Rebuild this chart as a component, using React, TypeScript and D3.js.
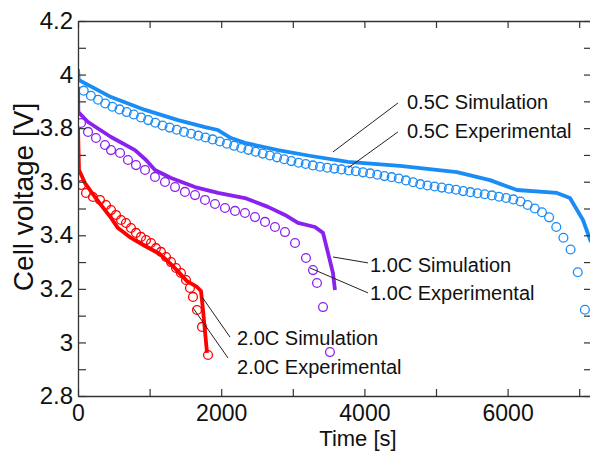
// Discharge curves: simulation (lines) vs experiment (open circles) at three C-rates
import { useEffect, useRef } from 'react';
import * as d3 from 'd3';

const W = 590, H = 451;
const font = "'Liberation Sans', Arial, Helvetica, sans-serif";

const COL = {
  c05: '#1a8cf5',
  c10: '#8a22ee',
  c20: '#ff0000',
  axis: '#333',
  text: '#111',
};

// ── ticks ──
const xTicks = [0, 1000, 2000, 3000, 4000, 5000, 6000, 7000];
const xTickLabels = ['0', '', '2000', '', '4000', '', '6000', ''];
const yTicks = [2.8, 2.9, 3.0, 3.1, 3.2, 3.3, 3.4, 3.5, 3.6, 3.7, 3.8, 3.9, 4.0, 4.1, 4.2];
const yTickLabels = ['2.8', '', '3', '', '3.2', '', '3.4', '', '3.6', '', '3.8', '', '4', '', '4.2'];

// ── 0.5C ──
const sim05T = [0, 10, 461, 936, 1397, 1774, 1955, 2137, 2332, 2793, 3254, 3771, 4497, 5293, 5754, 6131, 6690, 6871, 7053, 7165];
const sim05V = [4.02, 3.98, 3.916, 3.868, 3.83, 3.804, 3.793, 3.763, 3.745, 3.718, 3.696, 3.674, 3.659, 3.636, 3.606, 3.569, 3.558, 3.539, 3.457, 3.375];
const exp05T = [
  80, 180, 280, 380, 480, 580, 680, 780, 880, 980, 1080, 1180, 1280, 1380, 1480, 1580, 1680, 1780,
  1880, 1980, 2080, 2180, 2280, 2380, 2480, 2580, 2680, 2780, 2880, 2980, 3080, 3180, 3280, 3380,
  3480, 3580, 3680, 3780, 3880, 3980, 4080, 4180, 4280, 4380, 4480, 4580, 4680, 4780, 4880, 4980,
  5080, 5180, 5280, 5380, 5480, 5580, 5680, 5780, 5880, 5980, 6080, 6180, 6280, 6380, 6480, 6580,
  6680, 6780, 6880, 6980, 7080,
];
const exp05V = [
  3.94, 3.921, 3.906, 3.892, 3.88, 3.87, 3.86, 3.851, 3.84, 3.83, 3.82, 3.81, 3.802, 3.794, 3.786, 3.779, 3.772, 3.765,
  3.758, 3.75, 3.742, 3.734, 3.726, 3.719, 3.712, 3.705, 3.698, 3.691, 3.684, 3.677, 3.671, 3.666, 3.661, 3.656,
  3.652, 3.649, 3.646, 3.642, 3.639, 3.635, 3.631, 3.626, 3.621, 3.617, 3.612, 3.605, 3.598, 3.591, 3.586, 3.582,
  3.578, 3.574, 3.57, 3.565, 3.561, 3.557, 3.553, 3.549, 3.544, 3.539, 3.534, 3.526, 3.513, 3.5, 3.486, 3.467,
  3.431, 3.391, 3.347, 3.262, 3.122,
];

// ── 1.0C ──
const sim10T = [0, 5, 140, 461, 796, 950, 1075, 1299, 1634, 1955, 2332, 2653, 2891, 3073, 3310, 3422, 3492, 3561, 3589];
const sim10V = [3.954, 3.86, 3.823, 3.767, 3.718, 3.681, 3.644, 3.614, 3.58, 3.558, 3.539, 3.506, 3.476, 3.446, 3.431, 3.409, 3.334, 3.259, 3.196];
const exp10T = [42, 140, 251, 377, 461, 587, 698, 810, 936, 1075, 1215, 1355, 1494, 1634, 1774, 1913, 2053, 2193, 2332, 2472, 2612, 2751, 2891, 3031, 3184, 3282, 3338, 3422, 3519];
const exp10V = [3.819, 3.786, 3.763, 3.737, 3.718, 3.707, 3.681, 3.662, 3.644, 3.618, 3.599, 3.58, 3.562, 3.55, 3.532, 3.517, 3.502, 3.491, 3.483, 3.468, 3.45, 3.431, 3.412, 3.371, 3.315, 3.27, 3.222, 3.132, 2.964];

// ── 2.0C ──
const sim20T = [0, 14, 98, 237, 377, 461, 559, 740, 936, 1145, 1327, 1522, 1662, 1718, 1746, 1802];
const sim20V = [3.8, 3.644, 3.595, 3.543, 3.494, 3.465, 3.427, 3.39, 3.36, 3.33, 3.285, 3.229, 3.207, 3.192, 3.121, 2.961];
const exp20T = [42, 112, 209, 307, 391, 461, 531, 601, 670, 740, 810, 880, 950, 1020, 1089, 1159, 1229, 1299, 1369, 1438, 1508, 1564, 1606, 1662, 1732, 1816];
const exp20V = [3.588, 3.558, 3.543, 3.532, 3.513, 3.494, 3.476, 3.457, 3.446, 3.427, 3.409, 3.394, 3.382, 3.371, 3.352, 3.338, 3.319, 3.3, 3.278, 3.259, 3.233, 3.203, 3.17, 3.121, 3.058, 2.953];

// annotation labels: text, leader start (t,V), leader end (t,V), text anchor (t,V)
const notes = [
  { text: '0.5C Simulation',   from: [3561, 3.711], to: [4469, 3.894], at: [4595, 3.898] },
  { text: '0.5C Experimental', from: [3771, 3.651], to: [4469, 3.786], at: [4595, 3.789] },
  { text: '1.0C Simulation',   from: [3561, 3.319], to: [4050, 3.297], at: [4078, 3.291] },
  { text: '1.0C Experimental', from: [3240, 3.278], to: [4050, 3.185], at: [4078, 3.187] },
  { text: '2.0C Simulation',   from: [1732, 3.170], to: [2123, 3.020], at: [2221, 3.016] },
  { text: '2.0C Experimental', from: [1606, 3.129], to: [2095, 2.942], at: [2221, 2.910] },
];

const zip = (t: number[], v: number[]) => t.map((d, i) => [d, v[i]] as [number, number]);

export default function App() {
  const ref = useRef<SVGSVGElement>(null);

  useEffect(() => {
    const svg = d3.select(ref.current);
    svg.selectAll('*').remove();

    const x = d3.scaleLinear().domain([0, 7165]).range([78, 591]);
    const y = d3.scaleLinear().domain([2.8, 4.2]).range([396, 21]);

    svg.append('rect').attr('width', W).attr('height', H).attr('fill', '#fff');

    svg.append('defs').append('clipPath').attr('id', 'plot')
      .append('rect').attr('x', 78).attr('y', 21).attr('width', 513).attr('height', 375);

    const g = svg.append('g').attr('clip-path', 'url(#plot)');

    const series = [
      { c: COL.c05, sim: zip(sim05T, sim05V), exp: zip(exp05T, exp05V) },
      { c: COL.c10, sim: zip(sim10T, sim10V), exp: zip(exp10T, exp10V) },
      { c: COL.c20, sim: zip(sim20T, sim20V), exp: zip(exp20T, exp20V) },
    ];
    const line = d3.line<[number, number]>().x(d => x(d[0])).y(d => y(d[1]));

    // experimental circles first, simulation lines on top
    series.forEach(s => {
      g.append('g').selectAll('circle').data(s.exp).join('circle')
        .attr('cx', d => x(d[0])).attr('cy', d => y(d[1])).attr('r', 4.4)
        .attr('fill', 'none').attr('stroke', s.c).attr('stroke-width', 1.3);
    });
    series.forEach(s => {
      g.append('path').datum(s.sim).attr('d', line)
        .attr('fill', 'none').attr('stroke', s.c).attr('stroke-width', 3.8)
        .attr('stroke-linejoin', 'round');
    });

    // axes: ticks point inward on all four sides
    const styleAx = (size: number) => (ax: any) => {
      ax.select('.domain').attr('stroke', COL.axis).attr('stroke-width', 1.3);
      ax.selectAll('line').attr('stroke', COL.axis).attr('stroke-width', 1.2);
      ax.selectAll('text').attr('fill', COL.text).attr('font-family', font).attr('font-size', size);
    };
    svg.append('g').attr('transform', 'translate(78,0)')
      .call(d3.axisLeft(y).tickValues(yTicks).tickSize(-8).tickSizeOuter(0).tickPadding(5)
        .tickFormat((_d, i) => yTickLabels[i]))
      .call(styleAx(24));
    svg.append('g').attr('transform', 'translate(0,396)')
      .call(d3.axisBottom(x).tickValues(xTicks).tickSize(-7).tickSizeOuter(0).tickPadding(9)
        .tickFormat((_d, i) => xTickLabels[i]))
      .call(styleAx(23));
    svg.append('g').attr('transform', 'translate(0,21)')
      .call(d3.axisTop(x).tickValues(xTicks).tickSize(-7).tickSizeOuter(0).tickFormat(() => ''))
      .call(styleAx(24));
    svg.append('g').attr('transform', 'translate(591,0)')
      .call(d3.axisRight(y).tickValues(yTicks).tickSize(-7).tickSizeOuter(0).tickFormat(() => ''))
      .call(styleAx(24));

    // annotations
    const ann = svg.append('g');
    notes.forEach(n => {
      ann.append('line')
        .attr('x1', x(n.from[0])).attr('y1', y(n.from[1]))
        .attr('x2', x(n.to[0])).attr('y2', y(n.to[1]))
        .attr('stroke', '#222').attr('stroke-width', 1);
      ann.append('text')
        .attr('x', x(n.at[0])).attr('y', y(n.at[1])).attr('dy', '0.36em')
        .attr('font-family', font).attr('font-size', 20).attr('fill', COL.text)
        .text(n.text);
    });

    // axis titles
    svg.append('text').attr('transform', 'translate(33,197) rotate(-90)')
      .attr('text-anchor', 'middle').attr('font-family', font).attr('font-size', 28)
      .attr('fill', COL.text).text('Cell voltage [V]');
    svg.append('text').attr('x', 358).attr('y', 446)
      .attr('text-anchor', 'middle').attr('font-family', font).attr('font-size', 22)
      .attr('fill', COL.text).text('Time [s]');
  }, []);

  return (
    <svg ref={ref} width={W} height={H}
      style={{ position: 'absolute', left: 0, top: 0, display: 'block' }} />
  );
}
